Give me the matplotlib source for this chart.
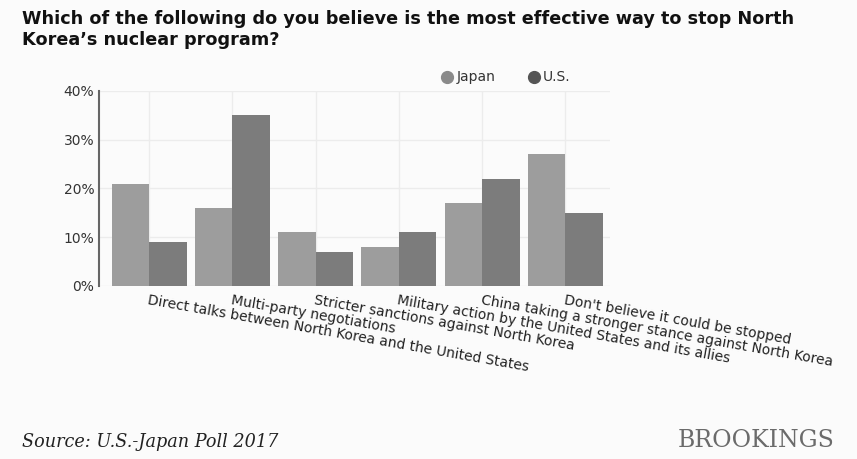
import matplotlib
matplotlib.use("Agg")
import matplotlib.pyplot as plt
from matplotlib.lines import Line2D
import numpy as np

categories = [
    "Direct talks between North Korea and the United States",
    "Multi-party negotiations",
    "Stricter sanctions against North Korea",
    "Military action by the United States and its allies",
    "China taking a stronger stance against North Korea",
    "Don't believe it could be stopped",
]
japan = [21, 16, 11, 8, 17, 27]
us = [9, 35, 7, 11, 22, 15]
yticks = [0, 10, 20, 30, 40]
ytick_labels = ["0%", "10%", "20%", "30%", "40%"]

plt.rcParams['font.family'] = ['DejaVu Sans']

BG = "#fbfbfb"
fig = plt.figure(figsize=(8.57, 4.59), dpi=100)
fig.patch.set_facecolor(BG)
ax = fig.add_axes([0.115, 0.377, 0.597, 0.425])
ax.set_facecolor(BG)

x = np.arange(len(categories))
w = 0.45
ax.bar(x - w / 2, japan, width=w, color="#9d9d9d", zorder=3, linewidth=0)
ax.bar(x + w / 2, us, width=w, color="#7c7c7c", zorder=3, linewidth=0)

ax.set_ylim(0, 40)
ax.set_xlim(-0.61, 5.54)
ax.set_yticks(yticks)
ax.set_yticklabels(ytick_labels, fontsize=10, color="#333333")
ax.set_xticks(x)
ax.set_xticklabels([])
ax.tick_params(length=0, pad=3)
ax.grid(True, color="#ececec", linewidth=1, zorder=0)
for s in ["top", "right", "bottom"]:
    ax.spines[s].set_visible(False)
ax.spines["left"].set_color("#666666")
ax.spines["left"].set_linewidth(1.5)

for xi, lab in zip(x, categories):
    ax.annotate(lab, xy=(xi, 0), xycoords=("data", "axes fraction"),
                xytext=(0, -5), textcoords="offset points",
                rotation=-10, rotation_mode="anchor", ha="left", va="top",
                fontsize=10, color="#222222")

# legend
ly = 1 - 77 / 459
fig.add_artist(Line2D([447 / 857], [ly], marker="o", markersize=8.5, color="#8a8a8a",
                      linestyle="none", transform=fig.transFigure))
fig.text(457 / 857, ly, "Japan", fontsize=10, color="#333333", ha="left", va="center")
fig.add_artist(Line2D([534 / 857], [ly], marker="o", markersize=8.5, color="#555555",
                      linestyle="none", transform=fig.transFigure))
fig.text(543 / 857, ly, "U.S.", fontsize=10, color="#333333", ha="left", va="center")

fig.text(22 / 857, 1 - 24.5 / 459,
         "Which of the following do you believe is the most effective way to stop North",
         fontsize=12.7, fontweight="bold", ha="left", va="baseline", color="#111111")
fig.text(22 / 857, 1 - 45 / 459, "Korea\u2019s nuclear program?",
         fontsize=12.7, fontweight="bold", ha="left", va="baseline", color="#111111")

fig.text(22 / 857, 1 - 447 / 459, "Source: U.S.-Japan Poll 2017", fontsize=12.7, style="italic",
         family=["DejaVu Serif"], ha="left", va="baseline", color="#222222")
fig.text(835 / 857, 1 - 447 / 459, "BROOKINGS", fontsize=17, family=["DejaVu Serif"],
         ha="right", va="baseline", color="#6b6b6b")

fig.savefig("out.png", dpi=100, facecolor=fig.get_facecolor())
